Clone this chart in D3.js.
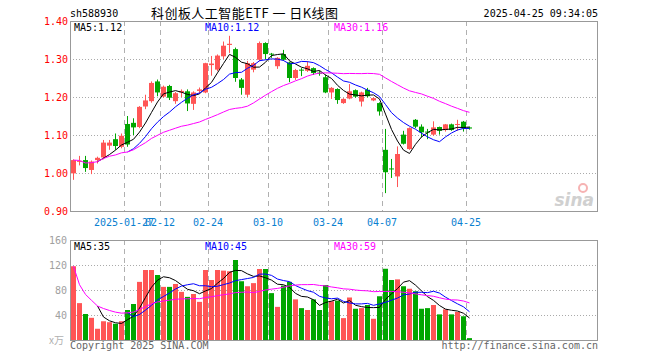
<!DOCTYPE html>
<meta charset="utf-8">
<script src="https://d3js.org/d3.v7.min.js"></script>
<style>
  body { margin: 0; background: #fff; }
  svg text { font-family: "DejaVu Sans Mono", monospace; font-size: 10px; }
</style>
<div id="chart"></div>
<script>

// trading days on the chart
var dates = ["2025-01-14","2025-01-15","2025-01-16","2025-01-17","2025-01-20","2025-01-21","2025-01-22","2025-01-23","2025-01-24","2025-01-27",
  "2025-02-05","2025-02-06","2025-02-07","2025-02-10","2025-02-11","2025-02-12","2025-02-13","2025-02-14","2025-02-17","2025-02-18",
  "2025-02-19","2025-02-20","2025-02-21","2025-02-24","2025-02-25","2025-02-26","2025-02-27","2025-02-28","2025-03-03","2025-03-04",
  "2025-03-05","2025-03-06","2025-03-07","2025-03-10","2025-03-11","2025-03-12","2025-03-13","2025-03-14","2025-03-17","2025-03-18",
  "2025-03-19","2025-03-20","2025-03-21","2025-03-24","2025-03-25","2025-03-26","2025-03-27","2025-03-28","2025-03-31","2025-04-01",
  "2025-04-02","2025-04-03","2025-04-07","2025-04-08","2025-04-09","2025-04-10","2025-04-11","2025-04-14","2025-04-15","2025-04-16",
  "2025-04-17","2025-04-18","2025-04-21","2025-04-22","2025-04-23","2025-04-24","2025-04-25"];

var open = [0.999,1.030,1.034,1.008,1.034,1.041,1.072,1.089,1.069,1.129,
  1.132,1.121,1.175,1.189,1.241,1.201,1.229,1.189,1.212,1.215,
  1.182,1.216,1.212,1.284,1.272,1.307,1.337,1.326,1.246,1.206,
  1.272,1.298,1.342,1.314,1.281,1.313,1.291,1.250,1.272,1.269,
  1.276,1.264,1.252,1.212,1.221,1.184,1.196,1.218,1.188,1.219,
  1.191,1.184,1.061,1.012,0.991,1.101,1.063,1.140,1.122,1.109,
  1.101,1.121,1.113,1.128,1.127,1.135,1.120];

var high = [1.036,1.045,1.045,1.033,1.043,1.087,1.087,1.104,1.104,1.150,
  1.144,1.176,1.206,1.241,1.246,1.230,1.232,1.213,1.220,1.220,
  1.215,1.225,1.290,1.308,1.312,1.346,1.361,1.330,1.250,1.295,
  1.292,1.346,1.344,1.316,1.305,1.324,1.293,1.274,1.276,1.294,
  1.278,1.269,1.259,1.226,1.223,1.197,1.234,1.220,1.214,1.224,
  1.199,1.186,1.116,1.037,1.070,1.111,1.120,1.142,1.128,1.116,
  1.136,1.122,1.129,1.130,1.140,1.137,1.122];

var low = [0.982,1.020,1.003,0.997,1.025,1.036,1.061,1.061,1.065,1.069,
  1.100,1.118,1.168,1.185,1.202,1.198,1.192,1.182,1.200,1.163,
  1.166,1.210,1.210,1.256,1.268,1.300,1.316,1.240,1.206,1.200,
  1.265,1.294,1.300,1.303,1.274,1.295,1.239,1.245,1.255,1.266,
  1.258,1.256,1.210,1.195,1.182,1.182,1.194,1.198,1.175,1.199,
  1.189,1.151,0.947,0.987,0.963,1.075,1.061,1.118,1.094,1.089,
  1.098,1.101,1.109,1.111,1.111,1.109,1.114];

var close = [1.034,1.032,1.013,1.030,1.040,1.080,1.080,1.071,1.098,1.075,
  1.120,1.174,1.191,1.237,1.212,1.227,1.198,1.210,1.216,1.183,
  1.212,1.220,1.289,1.288,1.309,1.335,1.340,1.250,1.224,1.289,
  1.289,1.342,1.313,1.312,1.303,1.298,1.250,1.271,1.270,1.282,
  1.263,1.263,1.212,1.224,1.192,1.195,1.215,1.201,1.212,1.202,
  1.197,1.162,1.002,1.010,1.050,1.077,1.118,1.122,1.107,1.107,
  1.120,1.111,1.128,1.113,1.129,1.118,1.117];

// volume, in 10k
var volume = [118,59,41.6,35.5,18,30,28.5,26,30,48,
  57.6,93,112,112,104,85,85,89.6,77,69,
  73.6,61,112,96,112,111,110,128,94,86,
  91,113.6,113.6,75,53,87,93,65,51,48,
  65,48,88,62,63,35,68,50,51,56,
  34,70,114,96,97,86,82,78,50,51,
  56,41,49,41,45,38,3];

var tickDates = ["2025-01-27","2025-02-12","2025-02-24","2025-03-10","2025-03-24","2025-04-07","2025-04-25"];
var tickLabels = ["2025-01-27","02-12","02-24","03-10","03-24","04-07","04-25"];
var priceTicks = [0.90,1.00,1.10,1.20,1.30,1.40];
var volTicks = [40,80,120,160];

var red = "#ff5555", green = "#00a600";
var nSlots = 88;

var svg = d3.select("#chart").append("svg")
  .attr("width", 660).attr("height", 360);

// one slot per trading day, room for 88 of them
var x = d3.scaleBand().domain(d3.range(nSlots)).range([70, 598]);
var cx = function(i) { return Math.round(x(i)) + 3; };

var y = d3.scaleLinear().domain([0.9, 1.4]).range([211, 21]);
var yv = d3.scaleLinear().domain([0, 160]).range([340, 240]);

var idx = d3.range(dates.length);
var tickIdx = tickDates.map(function(d) { return dates.indexOf(d); });

// moving averages; the long one takes what is there at the start
function ma(arr, n) {
  return arr.map(function(v, i) { return i < n - 1 ? null : d3.mean(arr.slice(i - n + 1, i + 1)); });
}
function maLong(arr, n) {
  return arr.map(function(v, i) { return d3.mean(arr.slice(Math.max(0, i - n + 1), i + 1)); });
}

// header
svg.append("text").attr("x", 70).attr("y", 16.5).text("sh588930");
svg.append("text").attr("x", 151).attr("y", 17.5)
  .style("font-family", "'Noto Sans CJK SC'").style("font-size", "13px")
  .attr("textLength", 187).attr("lengthAdjust", "spacing")
  .text("科创板人工智能ETF 一 日K线图");
svg.append("text").attr("x", 598).attr("y", 16.5).attr("text-anchor", "end").text("2025-04-25 09:34:05");

// panel grids
function panel(yScale, top, bottom, grid) {
  var g = svg.append("g");
  g.selectAll(".hg").data(grid).join("line")
    .attr("x1", 70).attr("x2", 598)
    .attr("y1", function(d) { return Math.round(yScale(d)) + 0.5; })
    .attr("y2", function(d) { return Math.round(yScale(d)) + 0.5; })
    .attr("stroke", "#aaa").attr("stroke-dasharray", "1,2");
  g.selectAll(".vg").data(tickIdx).join("line")
    .attr("x1", function(i) { return Math.round(x(i)) + 0.5; })
    .attr("x2", function(i) { return Math.round(x(i)) + 0.5; })
    .attr("y1", top).attr("y2", bottom)
    .attr("stroke", "#b0b0b0").attr("stroke-dasharray", "5,4");
  g.append("rect").attr("x", 70.5).attr("y", top + 0.5)
    .attr("width", 527).attr("height", bottom - top)
    .attr("fill", "none").attr("stroke", "#999");
}
panel(y, 21, 211, [1.0, 1.1, 1.2, 1.3]);
panel(yv, 240, 340, [40, 80, 120]);

// sina watermark
svg.append("circle").attr("cx", 583).attr("cy", 188).attr("r", 4)
  .attr("fill", "none").attr("stroke", "#f6b3b3").attr("stroke-width", 2);
svg.append("text").attr("x", 594).attr("y", 206).attr("text-anchor", "end")
  .style("font-family", "'DejaVu Sans'").style("font-size", "17px")
  .style("font-style", "italic").style("font-weight", "bold")
  .attr("fill", "#d0d0d0").text("sina");

// axes
var yAxis = svg.append("g").attr("transform", "translate(68,0)")
  .call(d3.axisLeft(y).tickValues(priceTicks).tickFormat(d3.format(".2f")).tickSize(0).tickPadding(0));
yAxis.select(".domain").remove();
yAxis.selectAll("text").attr("fill", "#ff0000").style("font-family", "'DejaVu Sans Mono'").style("font-size", "10px");

var vAxis = svg.append("g").attr("transform", "translate(67,0)")
  .call(d3.axisLeft(yv).tickValues(volTicks).tickSize(0).tickPadding(0));
vAxis.select(".domain").remove();
vAxis.selectAll("text").attr("fill", "#a0a0a0").style("font-family", "'DejaVu Sans Mono'").style("font-size", "10px");

svg.selectAll(".xl").data(tickIdx).join("text")
  .attr("x", function(i) { return Math.round(x(i)); })
  .attr("y", 225.5).attr("text-anchor", "middle").attr("fill", "#0a80d0")
  .text(function(d, k) { return tickLabels[k]; });

// candles
var up = function(i) { return close[i] >= open[i]; };
var candles = svg.append("g").selectAll("g").data(idx).join("g")
  .attr("fill", function(i) { return up(i) ? red : green; })
  .attr("stroke", function(i) { return up(i) ? red : green; });
candles.append("line")
  .attr("x1", function(i) { return cx(i) + 0.5; }).attr("x2", function(i) { return cx(i) + 0.5; })
  .attr("y1", function(i) { return y(high[i]); }).attr("y2", function(i) { return y(low[i]); });
candles.append("rect")
  .attr("stroke", "none")
  .attr("x", function(i) { return cx(i) - 2; }).attr("width", 5)
  .attr("y", function(i) { return y(Math.max(open[i], close[i])); })
  .attr("height", function(i) { return Math.max(1, Math.abs(y(open[i]) - y(close[i]))); });

// volume bars
svg.append("g").selectAll("rect").data(idx).join("rect")
  .attr("x", function(i) { return cx(i) - 2; }).attr("width", 5)
  .attr("y", function(i) { return yv(volume[i]); })
  .attr("height", function(i) { return yv(0) - yv(volume[i]); })
  .attr("fill", function(i) { return up(i) ? red : green; });

// MA lines
var maColors = ["#000000", "#0000ff", "#ff00ff"];
function drawMA(series, scale, fmt, labelY) {
  var lines = [ma(series, 5), ma(series, 10), maLong(series, 30)];
  var names = ["MA5:", "MA10:", "MA30:"];
  var lx = [74, 205, 334];
  lines.forEach(function(vals, k) {
    svg.append("path")
      .datum(vals)
      .attr("fill", "none").attr("stroke", maColors[k]).attr("stroke-width", 1)
      .attr("d", d3.line()
        .defined(function(d) { return d != null; })
        .x(function(d, i) { return cx(i) + 0.5; })
        .y(function(d) { return scale(d); }));
    svg.append("text").attr("x", lx[k]).attr("y", labelY).attr("fill", maColors[k])
      .text(names[k] + fmt(vals[vals.length - 1]));
  });
}
drawMA(close, y, d3.format(".2f"), 31);
drawMA(volume, yv, d3.format(".0f"), 250);

// footer
svg.append("text").attr("x", 64).attr("y", 344).attr("text-anchor", "end").attr("fill", "#b0b0b0")
  .style("font-family", "'Noto Sans CJK SC'").style("font-size", "10px").text("x万");
svg.append("text").attr("x", 70).attr("y", 349).attr("fill", "#666").text("Copyright 2025 SINA.COM");
svg.append("text").attr("x", 598).attr("y", 349).attr("text-anchor", "end").attr("fill", "#666").text("http://finance.sina.com.cn");

</script>
